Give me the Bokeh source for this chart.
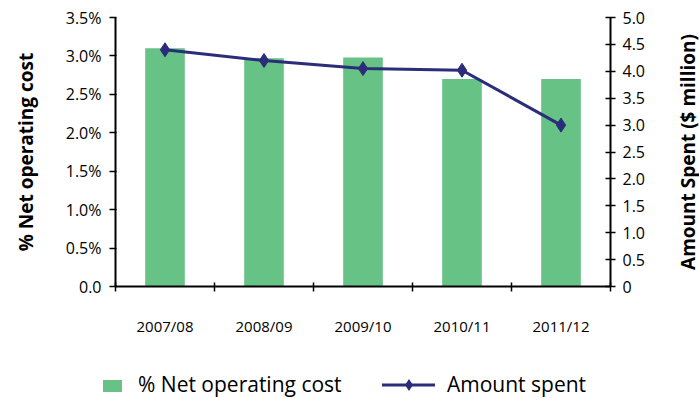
import math
from bokeh.plotting import figure
from bokeh.layouts import column, row
from bokeh.models import Range1d, LinearAxis, FixedTicker, Label, Div
from bokeh.embed import file_html
from bokeh.resources import INLINE

years = ["2007/08", "2008/09", "2009/10", "2010/11", "2011/12"]
pct_net_cost = [3.1, 2.97, 2.98, 2.7, 2.7]
amount_spent = [4.4, 4.2, 4.05, 4.02, 3.0]
left_ticks = [0, 0.5, 1.0, 1.5, 2.0, 2.5, 3.0, 3.5]
left_labels = ["0.0", "0.5%", "1.0%", "1.5%", "2.0%", "2.5%", "3.0%", "3.5%"]
right_ticks = [0, 0.5, 1.0, 1.5, 2.0, 2.5, 3.0, 3.5, 4.0, 4.5, 5.0]
right_labels = ["0", "0.5", "1.0", "1.5", "2.0", "2.5", "3.0", "3.5", "4.0", "4.5", "5.0"]
bar_label = "% Net operating cost"
line_label = "Amount spent"
left_title = "% Net operating cost"
right_title = "Amount Spent ($ million)"

GREEN = "#66c285"
NAVY = "#2b2d7a"
FONT = "Open Sans"

xs = [i + 0.5 for i in range(len(years))]
bounds = list(range(len(years) + 1))

p = figure(width=673, height=360, x_range=Range1d(0, len(years)), y_range=Range1d(0, 3.5),
           output_backend="svg", toolbar_location=None,
           min_border_left=115, min_border_right=63, min_border_top=17, min_border_bottom=74)
p.outline_line_color = None
p.grid.visible = False

bars = p.vbar(x=xs, top=pct_net_cost, width=0.4, fill_color=GREEN, line_color=None)

p.extra_y_ranges = {"amt": Range1d(0, 5)}
line = p.line(xs, amount_spent, y_range_name="amt", line_color=NAVY, line_width=3)
pts = p.scatter(xs, amount_spent, y_range_name="amt", marker="diamond", size=14,
                fill_color=NAVY, line_color=NAVY)

# x axis
xa = p.xaxis[0]
xa.ticker = FixedTicker(ticks=xs, minor_ticks=bounds)
xa.major_label_overrides = {x: y for x, y in zip(xs, years)}
xa.major_tick_in = 0
xa.major_tick_out = 0
xa.minor_tick_in = 4
xa.minor_tick_out = 5
xa.minor_tick_line_color = "black"
xa.minor_tick_line_width = 1.5
xa.axis_line_width = 2
xa.axis_line_color = "black"
xa.major_label_standoff = 24
xa.major_label_text_font = FONT
xa.major_label_text_font_size = "15px"
xa.major_label_text_color = "black"

# left axis
ya = p.yaxis[0]
ya.ticker = FixedTicker(ticks=left_ticks)
ya.major_label_overrides = {t: l for t, l in zip(left_ticks, left_labels)}
ya.minor_tick_line_color = None
ya.major_tick_in = 1
ya.major_tick_out = 6
ya.major_tick_line_width = 1.5
ya.major_tick_line_color = "black"
ya.axis_line_width = 2
ya.axis_line_color = "black"
ya.major_label_standoff = 8
ya.major_label_text_font = FONT
ya.major_label_text_font_size = "16px"
ya.major_label_text_color = "black"
ya.axis_label = left_title
ya.axis_label_text_font = FONT
ya.axis_label_text_font_style = "bold"
ya.axis_label_text_font_size = "19px"
ya.axis_label_text_color = "black"
ya.axis_label_standoff = 24

# right axis
ra = LinearAxis(y_range_name="amt", ticker=FixedTicker(ticks=right_ticks))
ra.major_label_overrides = {t: l for t, l in zip(right_ticks, right_labels)}
ra.minor_tick_line_color = None
ra.major_tick_in = 5
ra.major_tick_out = 5
ra.major_tick_line_width = 1.5
ra.major_tick_line_color = "black"
ra.axis_line_width = 2
ra.axis_line_color = "black"
ra.major_label_standoff = 7
ra.major_label_text_font = FONT
ra.major_label_text_font_size = "16px"
ra.major_label_text_color = "black"
p.add_layout(ra, "right")

# right axis title (reads bottom-to-top)
rl = figure(width=26, height=360, x_range=Range1d(0, 1), y_range=Range1d(0, 1),
            x_axis_type=None, y_axis_type=None, output_backend="svg", toolbar_location=None,
            min_border_left=0, min_border_right=0, min_border_top=17, min_border_bottom=74)
rl.outline_line_color = None
rl.grid.visible = False
rl.add_layout(Label(x=0.5, y=0.5, x_offset=1, angle=math.pi / 2, text=right_title,
                    text_align="center", text_baseline="middle", text_font=FONT,
                    text_font_style="bold", text_font_size="19px", text_color="black"))

legend_html = f"""
<div style="position:relative;width:699px;height:38px;font-family:'{FONT}';font-size:21px;color:#000;">
  <div style="position:absolute;left:103px;top:20px;width:19px;height:12px;background:{GREEN};"></div>
  <div style="position:absolute;left:138px;top:12px;height:24px;line-height:24px;white-space:nowrap;">{bar_label}</div>
  <svg style="position:absolute;left:382px;top:19px;" width="53" height="12">
    <line x1="0" y1="6" x2="53" y2="6" stroke="{NAVY}" stroke-width="3"/>
    <polygon points="27,0 31,6 27,12 23,6" fill="{NAVY}"/>
  </svg>
  <div style="position:absolute;left:447px;top:12px;height:24px;line-height:24px;white-space:nowrap;">{line_label}</div>
</div>
"""
legend_div = Div(text=legend_html, width=699, height=38, margin=0)

layout = column(row(p, rl, spacing=0), legend_div, spacing=0)
open("out.html", "w").write(file_html(layout, INLINE))
